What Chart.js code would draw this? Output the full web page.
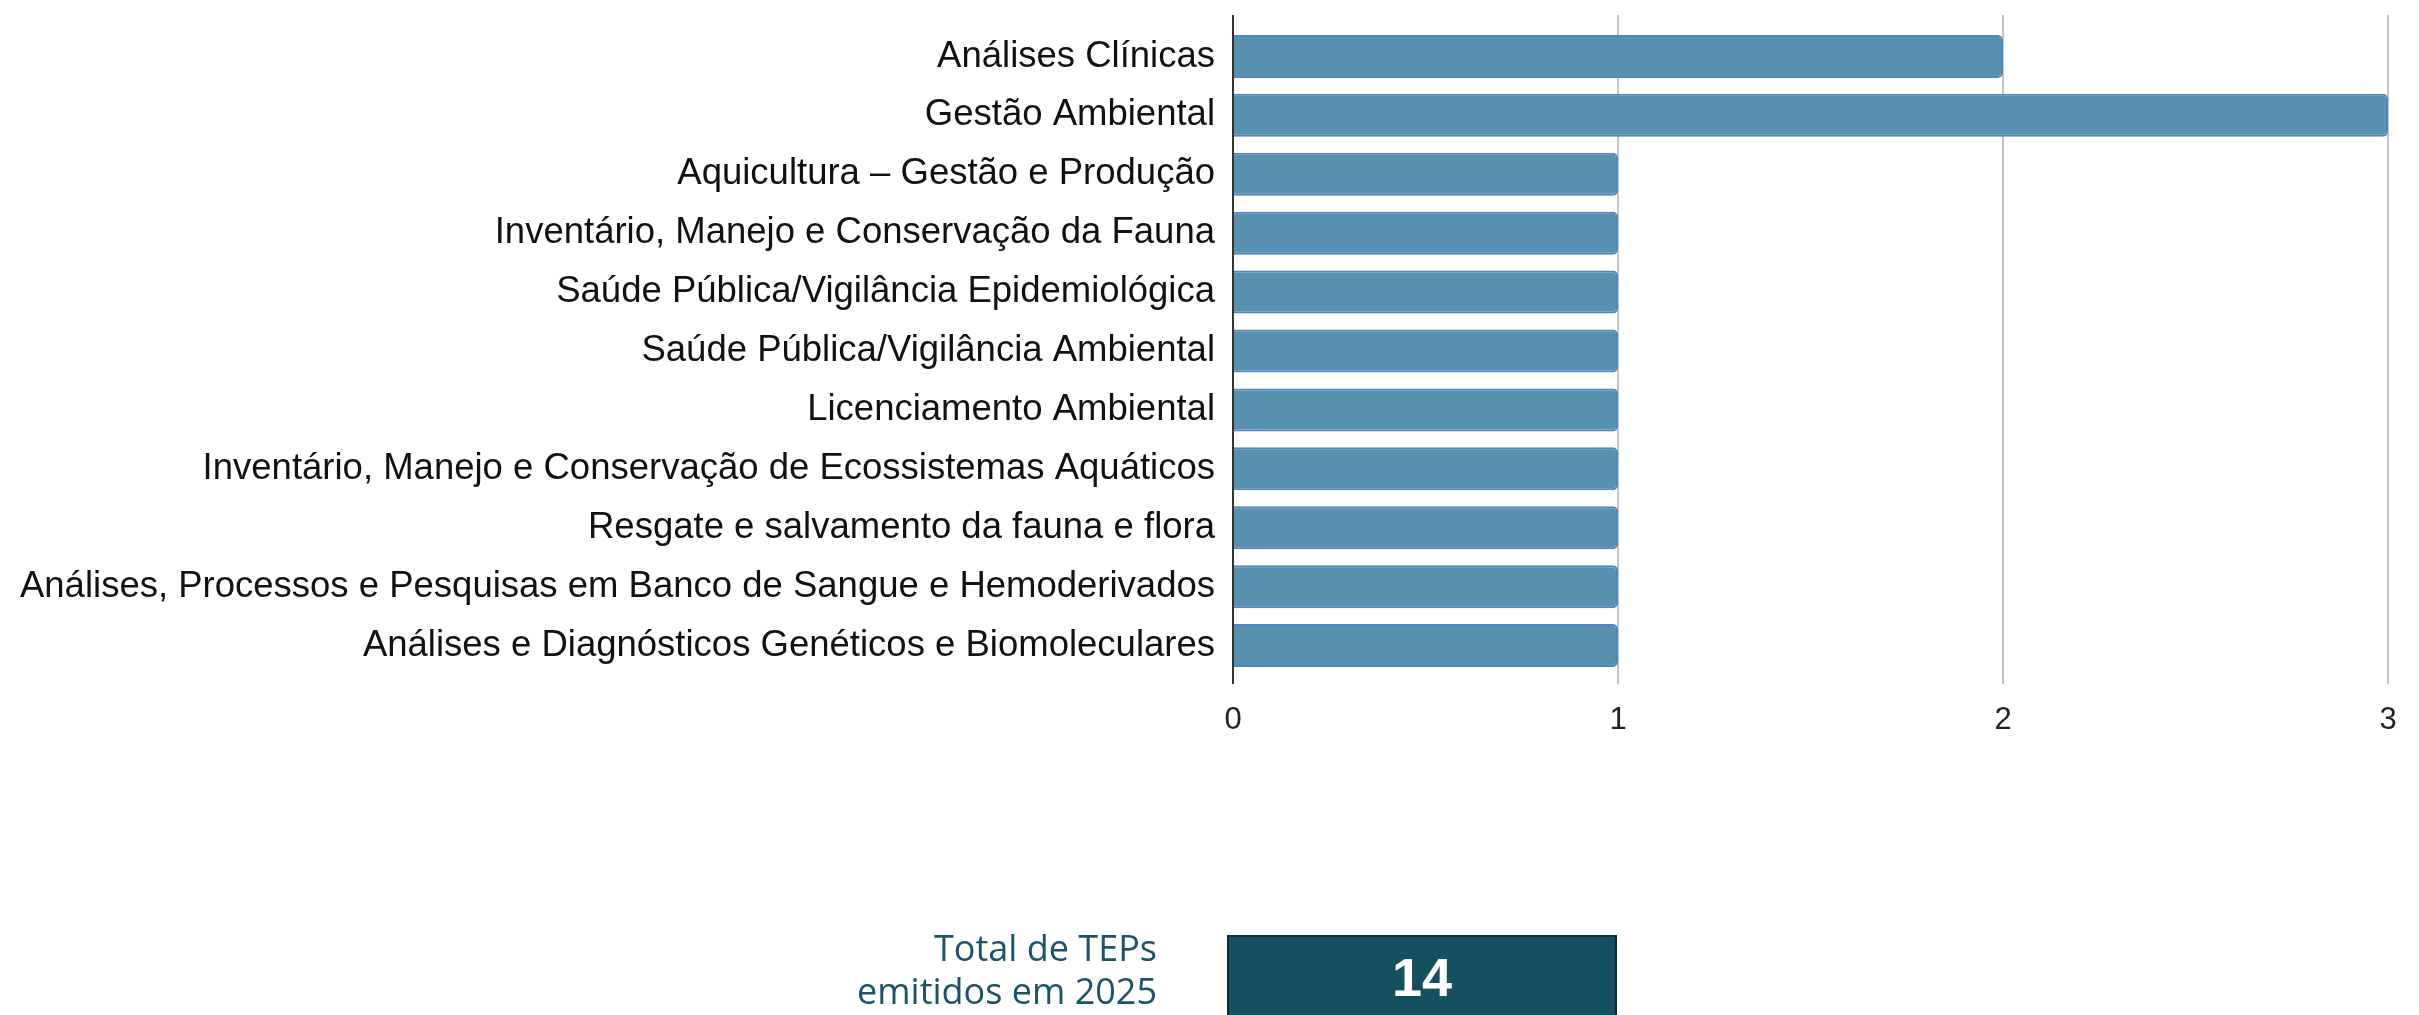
<!DOCTYPE html>
<html>
<head>
<meta charset="utf-8">
<script src="https://cdn.jsdelivr.net/npm/chart.js@4.4.1/dist/chart.umd.min.js"></script>
<style>
    html, body { margin: 0; padding: 0; background: #fff; overflow: hidden; }
    #wrap { position: relative; width: 2419px; height: 1015px; }
    #totalLabel {
        position: absolute; right: 1262px; top: 926px;
        font-family: "Open Sans", "Noto Sans", sans-serif; font-size: 36px; line-height: 43px;
        color: #1b5368; text-align: right;
    }
    #totalBox {
        position: absolute; left: 1227px; top: 935px; width: 390px; height: 100px;
        background: #15505f; border: 2px solid #0e2a40; box-sizing: border-box;
        color: #fff; font-family: "Liberation Sans", Arial, sans-serif; font-weight: bold;
        font-size: 54px; text-align: center; line-height: 80px;
    }
</style>
</head>
<body>
<div id="wrap">
    <canvas id="barChart" width="2419" height="1015"></canvas>
    <div id="totalLabel">Total de TEPs<br>emitidos em 2025</div>
    <div id="totalBox"></div>
</div>
<script>
// Áreas de atuação dos TEPs
const areas = [
    "Análises Clínicas",
    "Gestão Ambiental",
    "Aquicultura – Gestão e Produção",
    "Inventário, Manejo e Conservação da Fauna",
    "Saúde Pública/Vigilância Epidemiológica",
    "Saúde Pública/Vigilância Ambiental",
    "Licenciamento Ambiental",
    "Inventário, Manejo e Conservação de Ecossistemas Aquáticos",
    "Resgate e salvamento da fauna e flora",
    "Análises, Processos e Pesquisas em Banco de Sangue e Hemoderivados",
    "Análises e Diagnósticos Genéticos e Biomoleculares"
];
const quantidades = [2, 3, 1, 1, 1, 1, 1, 1, 1, 1, 1];
const xTicks = [0, 1, 2, 3];

// total no quadro de baixo
document.getElementById("totalBox").textContent = quantidades.reduce((a, b) => a + b, 0);

// prolonga as linhas de grade um pouco acima da área do gráfico
const gridTop = {
    id: 'gridTop',
    beforeDatasetsDraw(chart) {
        const ctx = chart.ctx;
        const xs = chart.scales.x;
        const top = chart.chartArea.top;
        ctx.save();
        xTicks.forEach(v => {
            const px = xs.getPixelForValue(v);
            ctx.beginPath();
            ctx.strokeStyle = v === 0 ? '#333333' : '#c4c4c4';
            ctx.lineWidth = 2;
            ctx.moveTo(px, top - 12);
            ctx.lineTo(px, top);
            ctx.stroke();
        });
        ctx.restore();
    }
};

const ctx = document.getElementById('barChart').getContext('2d');
new Chart(ctx, {
    type: 'bar',
    data: {
        labels: areas,
        datasets: [{
            data: quantidades,
            backgroundColor: '#5891b0',
            borderColor: '#4d87c2',
            borderWidth: 2,
            borderRadius: 5,
            borderSkipped: 'start',
            categoryPercentage: 1,
            barPercentage: 0.73
        }]
    },
    options: {
        indexAxis: 'y',
        responsive: false,
        animation: false,
        layout: { padding: { top: 27, right: 31, left: 0, bottom: 0 } },
        scales: {
            x: {
                min: 0,
                max: 3,
                afterBuildTicks: (s) => { s.ticks = xTicks.map(v => ({ value: v })); },
                afterFit: (s) => { s.height = 340; },
                border: { display: false },
                grid: {
                    color: (c) => c.tick && c.tick.value === 0 ? '#333333' : '#c4c4c4',
                    lineWidth: 2,
                    tickLength: 9
                },
                ticks: {
                    padding: 18,
                    color: '#222',
                    font: { family: '"Liberation Sans", Arial, sans-serif', size: 31 }
                }
            },
            y: {
                afterFit: (s) => {
                    s.width = 1233;
                    s.paddingTop = 0;
                    s.paddingBottom = 0;
                },
                border: { display: true, color: '#333333', width: 2 },
                grid: { display: false, drawTicks: false },
                ticks: {
                    padding: 18,
                    autoSkip: false,
                    color: '#111',
                    font: { family: '"Liberation Sans", Arial, sans-serif', size: 36.5 }
                }
            }
        },
        plugins: {
            legend: { display: false },
            tooltip: { enabled: false }
        }
    },
    plugins: [gridTop]
});
</script>
</body>
</html>
